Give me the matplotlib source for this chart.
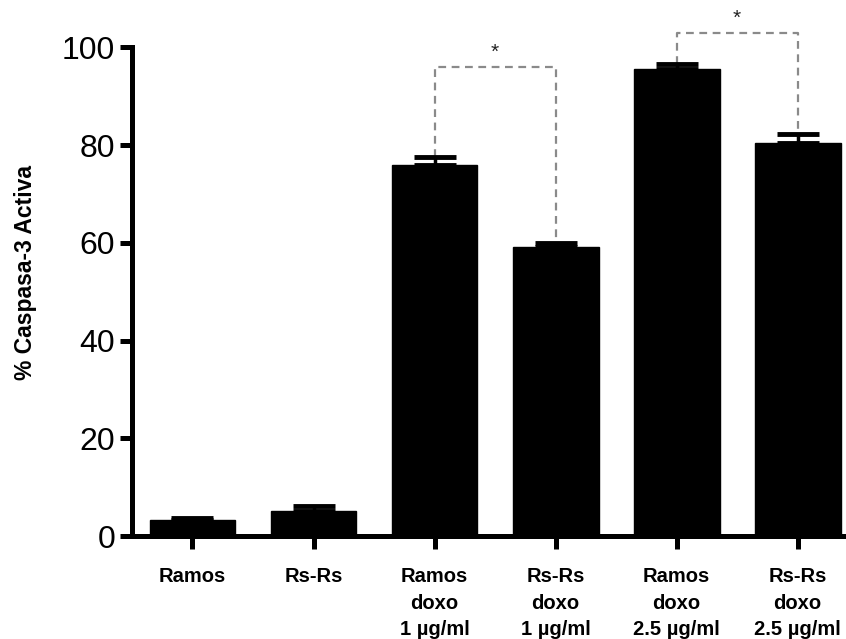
import matplotlib
matplotlib.use("Agg")
import matplotlib.pyplot as plt
import numpy as np

plt.rcParams['font.family'] = ['Liberation Sans', 'DejaVu Sans']

categories = ["Ramos", "Rs-Rs", "Ramos\ndoxo\n1 µg/ml", "Rs-Rs\ndoxo\n1 µg/ml",
              "Ramos\ndoxo\n2.5 µg/ml", "Rs-Rs\ndoxo\n2.5 µg/ml"]
means = [3.3, 5.1, 75.9, 59.1, 95.6, 80.4]
errors = [0.4, 1.0, 1.6, 0.8, 1.1, 1.8]
y_ticks = [0, 20, 40, 60, 80, 100]

# significance brackets: (left bar, right bar, bracket height, label)
brackets = [(2, 3, 96.0, "*"), (4, 5, 103.0, "*")]

fig = plt.figure(figsize=(8.46, 6.39), dpi=100)
ax = fig.add_axes([0.156, 0.161, 0.844, 0.826])

x = np.arange(len(categories))
ax.bar(x, means, width=0.71, color="black", edgecolor="black", zorder=2)
ax.errorbar(x, means, yerr=[np.zeros(len(errors)), errors], fmt="none",
            ecolor="black", elinewidth=2.5, capsize=15, capthick=3.5, zorder=3)

for i, j, h, label in brackets:
    yi = means[i] + errors[i]
    yj = means[j] + errors[j]
    ax.plot([x[i], x[i], x[j], x[j]], [yi, h, h, yj], color="#8a8a8a",
            linestyle=(0, (3.5, 2.5)), linewidth=1.6, zorder=1, clip_on=False)
    ax.text((x[i] + x[j]) / 2, h + 1.0, label, ha="center", va="bottom",
            fontsize=15, color="#222222")

ax.set_xlim(-0.5, 5.4)
ax.set_ylim(0, 108)
ax.set_yticks(y_ticks)
ax.set_yticklabels([str(t) for t in y_ticks], fontsize=23)
ax.set_xticks(x)
ax.set_xticklabels(categories, fontsize=14.5, fontweight="bold", linespacing=1.5)

for side in ("top", "right"):
    ax.spines[side].set_visible(False)
ax.spines["left"].set_bounds(0, 100)
ax.spines["left"].set_linewidth(3.6)
ax.spines["bottom"].set_linewidth(3.6)
ax.spines["bottom"].set_capstyle("projecting")
ax.tick_params(axis="y", length=9, width=3.6, pad=3)
ax.tick_params(axis="x", length=9.5, width=3.6, pad=13)

ax.set_ylabel("% Caspasa-3 Activa", fontsize=16.5, fontweight="bold")
ax.yaxis.set_label_coords(-0.133, 0.5)

fig.savefig("out.png", dpi=100)
